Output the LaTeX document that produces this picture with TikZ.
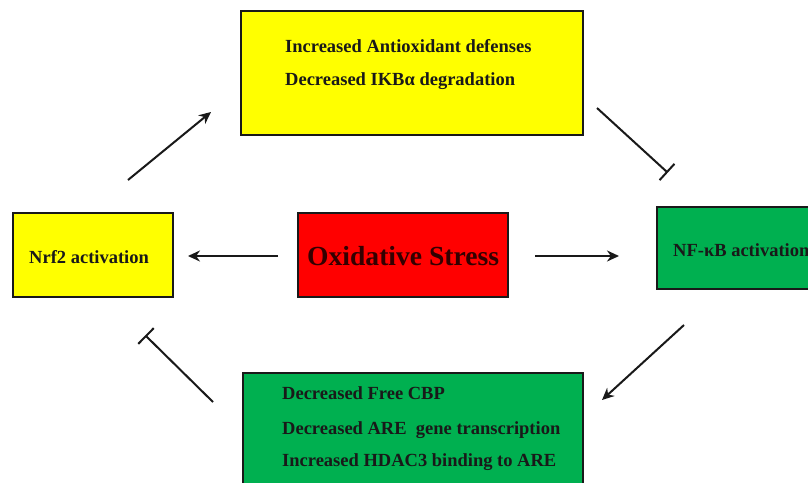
\documentclass[tikz,border=0pt]{standalone}
\usepackage{fontspec}
\setmainfont{Liberation Serif}
\usetikzlibrary{arrows.meta}
\definecolor{boxyellow}{RGB}{255,255,0}
\definecolor{boxred}{RGB}{255,0,0}
\definecolor{boxgreen}{RGB}{0,176,80}
\definecolor{edge}{RGB}{25,25,25}
\tikzset{
  panel/.style={draw=edge, line width=2pt},
  txt/.style={anchor=base west, inner sep=0pt, font=\fontsize{18.5}{21}\selectfont\bfseries, text=black!90},
  bigtxt/.style={anchor=base west, inner sep=0pt, font=\fontsize{27.6}{30}\selectfont\bfseries, text=black!80!red},
  act/.style={line width=2pt, draw=edge, -{Stealth[length=12pt,width=11pt]}},
  inh/.style={line width=2pt, draw=edge, -{Bar[width=22pt,line width=2pt]}, shorten >=-1pt}
}
\begin{document}
\begin{tikzpicture}[x=1pt,y=-1pt]
\useasboundingbox (0,0) rectangle (808,482);
\clip (0,0) rectangle (808,482);
\fill[white] (0,0) rectangle (808,482);
% boxes
\draw[panel, fill=boxyellow] (241,11) rectangle (583,135);
\draw[panel, fill=boxyellow] (13,213) rectangle (173,297);
\draw[panel, fill=boxred] (298,213) rectangle (508,297);
\draw[panel, fill=boxgreen] (657,207) rectangle (830,289);
\draw[panel, fill=boxgreen] (243,373) rectangle (583,500);
% texts
\node[txt] (t1) at (285,52) {Increased Antioxidant defenses};
\node[txt] (t2) at (285,85) {Decreased IKBα degradation};
\node[txt] (nrf) at (29,263) {Nrf2 activation};
\node[bigtxt] (ox) at (307,265) {Oxidative Stress};
\node[txt] (nfkb) at (673,256) {NF-κB activation};
\node[txt] (b1) at (282,399) {Decreased Free CBP};
\node[txt] (b2) at (282,434) {Decreased ARE\ \ gene transcription};
\node[txt] (b3) at (282,466) {Increased HDAC3 binding to ARE};
% connector endpoints
\coordinate (oxL) at (278,256);
\coordinate (nrfR) at (188,256);
\coordinate (oxR) at (535,256);
\coordinate (nfL) at (619,256);
\coordinate (nrfUp) at (128,180);
\coordinate (topL) at (211,112);
\coordinate (topR) at (597,108);
\coordinate (nfUp) at (667,172);
\coordinate (nfDn) at (684,325);
\coordinate (botR) at (602,400);
\coordinate (botL) at (213,402);
\coordinate (nrfDn) at (146,336);
% connectors
\draw[act] (oxL) -- (nrfR);
\draw[act] (oxR) -- (nfL);
\draw[act] (nrfUp) -- (topL);
\draw[inh] (topR) -- (nfUp);
\draw[act] (nfDn) -- (botR);
\draw[inh] (botL) -- (nrfDn);
\end{tikzpicture}
\end{document}
